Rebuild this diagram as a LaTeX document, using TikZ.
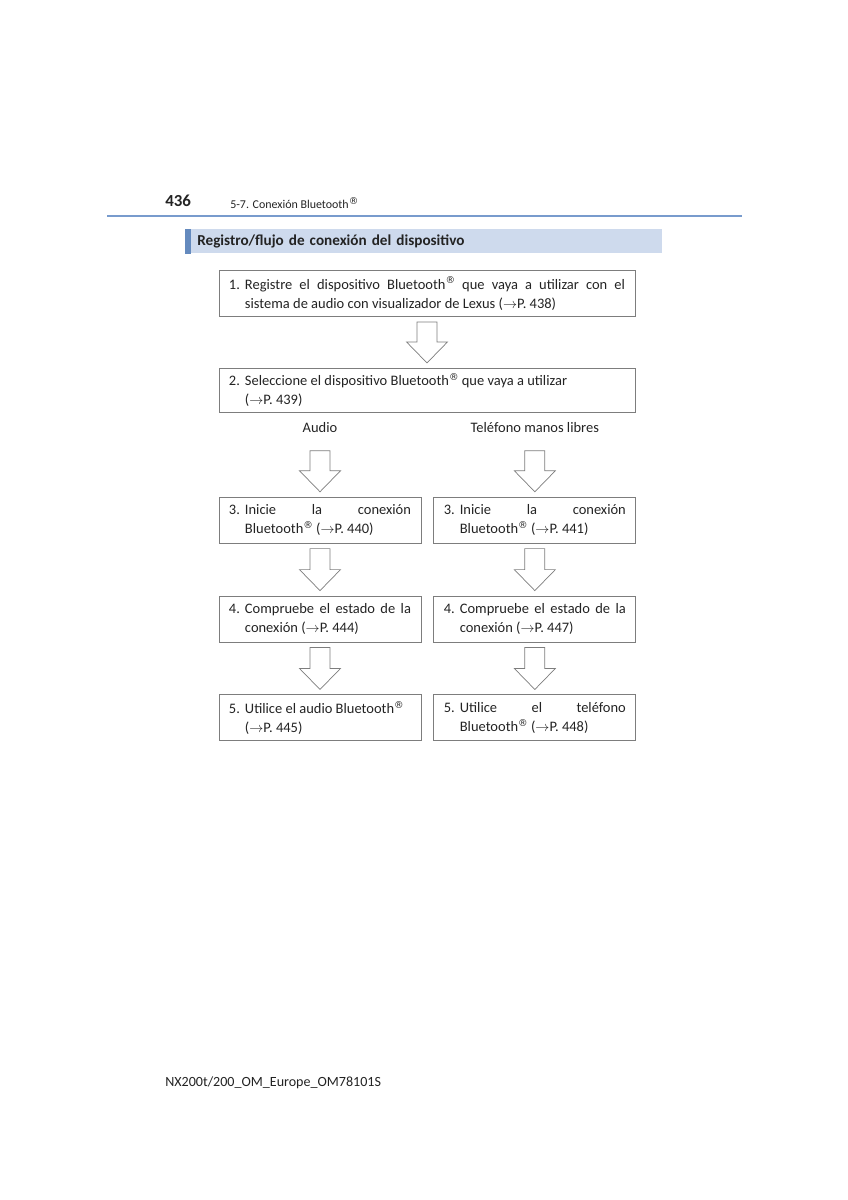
\documentclass[tikz,border=0pt]{standalone}
\usepackage{fontspec}
\setmainfont{Carlito}
\newfontfamily\simbolos{DejaVu Sans}
\usetikzlibrary{positioning,calc}
\definecolor{bordegris}{RGB}{125,125,125}
\definecolor{azulraya}{RGB}{120,155,205}
\definecolor{azulbarra}{RGB}{206,218,237}
\definecolor{azulfranja}{RGB}{100,138,190}
\definecolor{textogris}{RGB}{35,35,35}
\tikzset{caja/.style={draw=bordegris, line width=0.6pt, inner xsep=2.5mm, inner ysep=0pt, text=textogris,
    minimum height=11.5mm, align=justify, font=\fontsize{10.3}{13.5}\selectfont}}
\tikzset{cajaancha/.style={caja, text width=99mm}}
\tikzset{cajaestrecha/.style={caja, text width=45.5mm}}
\tikzset{etiqueta/.style={inner sep=0pt, minimum height=9mm, text=textogris, font=\fontsize{10.3}{12}\selectfont}}
\tikzset{flechagris/.style={draw=bordegris, line width=0.5pt, fill=white}}
\newcommand{\regis}{\raisebox{0.75ex}{\simbolos\fontsize{6.8}{6.8}\selectfont ®}}
\newcommand{\bt}{Bluetooth\regis}
\newcommand{\pag}[1]{(\ensuremath{\rightarrow}P.~#1)}
% numero y texto con sangria colgante
\newcommand{\paso}[2]{\makebox[4mm][l]{#1}\parbox[t]{\dimexpr\hsize-4mm\relax}{#2}}
% flecha hueca de #1 a #2
\newcommand{\flecha}[2]{%
  \path[flechagris] let \p1=($(#1.south -| #2.north)+(0,5)$), \p2=($(#2.north)+(0,-5)$) in
    ($(\p1)+(-10,0)$) -- ($(\p1)+(10,0)$) -- ($(\p2)+(10,-21)$) -- ($(\p2)+(20.5,-21)$)
    -- (\p2) -- ($(\p2)+(-20.5,-21)$) -- ($(\p2)+(-10,-21)$) -- cycle;}
\begin{document}
\begin{tikzpicture}[x=0.25mm, y=-0.25mm]
  \useasboundingbox (0,0) rectangle (848,1200);
  % cabecera
  \node[anchor=west, inner sep=0pt, text=textogris, font=\fontsize{12}{14}\selectfont\bfseries] (pagina) at (165,201) {436};
  \node[anchor=west, inner sep=0pt, text=textogris, font=\fontsize{8.5}{10}\selectfont] (capitulo) at (230,203) {5-7. Conexión \bt};
  \draw[azulraya, line width=1.4pt] (107,216) -- (742,216);
  \node[fill=azulbarra, anchor=north west, minimum width=119.25mm, minimum height=6mm,
    text width=113.25mm, align=left, inner xsep=3mm, inner ysep=0pt, text=textogris,
    font=\fontsize{10.8}{12}\selectfont\bfseries] (seccion) at (185,229) {Registro/flujo de conexión del dispositivo};
  \fill[azulfranja] (seccion.north west) rectangle ([xshift=1.5mm]seccion.south west);

  % cajas
  \node[cajaancha] (paso1) at (427,293.5) {\paso{1.}{Registre el dispositivo \bt{} que vaya a utilizar con el\linebreak
    sistema de audio con visualizador de Lexus \pag{438}}};
  \node[cajaancha, minimum height=11mm, below=12.75mm of paso1] (paso2) {\paso{2.}{Seleccione el dispositivo \bt{} que vaya a utilizar\\
    \pag{439}}};
  \node[cajaestrecha, below=21mm of paso2.south west, anchor=north west] (audio3) {\paso{3.}{Inicie la conexión\linebreak \bt{} \pag{440}}};
  \node[cajaestrecha, right=3mm of audio3] (tel3) {\paso{3.}{Inicie la conexión\linebreak \bt{} \pag{441}}};
  \node[cajaestrecha, below=13mm of audio3] (audio4) {\paso{4.}{Compruebe el estado de la\linebreak conexión \pag{444}}};
  \node[cajaestrecha, below=13mm of tel3] (tel4) {\paso{4.}{Compruebe el estado de la\linebreak conexión \pag{447}}};
  \node[cajaestrecha, below=13mm of audio4] (audio5) {\paso{5.}{Utilice el audio \bt\\ \pag{445}}};
  \node[cajaestrecha, below=13mm of tel4] (tel5) {\paso{5.}{Utilice el teléfono\linebreak \bt{} \pag{448}}};

  \node[etiqueta, above=12.75mm of audio3] (audio) {Audio};
  \node[etiqueta, above=12.75mm of tel3] (tel) {Teléfono manos libres};

  % flechas
  \flecha{paso1}{paso2}
  \flecha{audio}{audio3}
  \flecha{tel}{tel3}
  \flecha{audio3}{audio4}
  \flecha{tel3}{tel4}
  \flecha{audio4}{audio5}
  \flecha{tel4}{tel5}

  % pie
  \node[anchor=west, inner sep=0pt, text=textogris, font=\fontsize{10}{12}\selectfont] (pie) at (165,1083) {NX200t/200\_OM\_Europe\_OM78101S};
\end{tikzpicture}
\end{document}
